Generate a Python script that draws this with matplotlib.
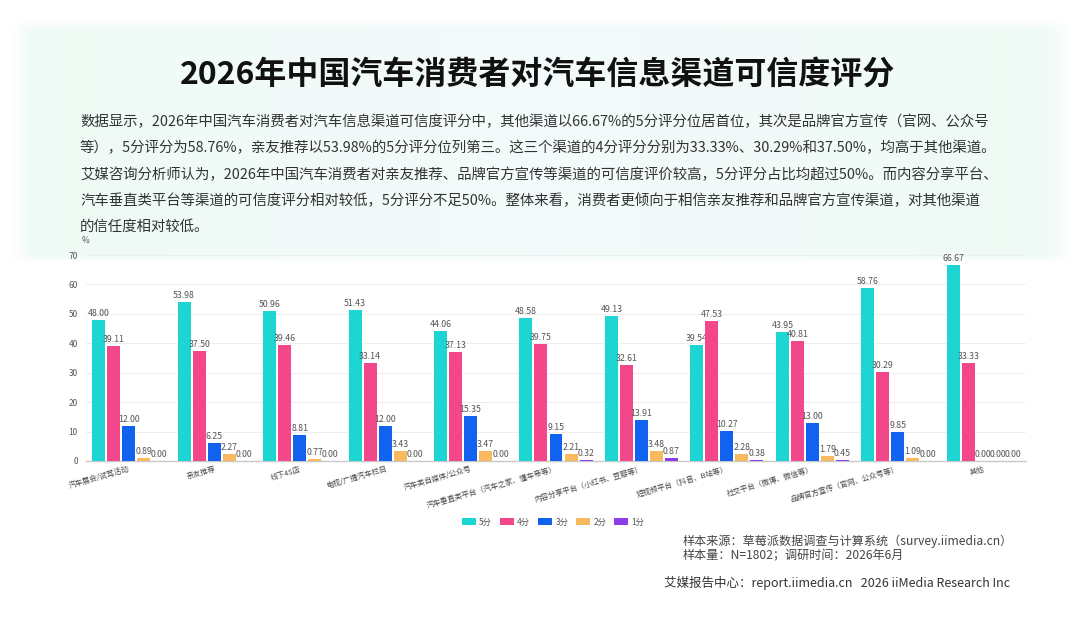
import matplotlib
matplotlib.use('Agg')
import matplotlib.pyplot as plt
import numpy as np

plt.rcParams['font.family'] = ['Noto Sans CJK SC', 'DejaVu Sans']

# categories and series (percent)
categories = ['汽车展会/试驾活动', '亲友推荐', '线下4S店', '电视/广播汽车栏目', '汽车类自媒体/公众号',
              '汽车垂直类平台（汽车之家、懂车帝等）', '内容分享平台（小红书、豆瓣等）',
              '短视频平台（抖音、B站等）', '社交平台（微博、微信等）', '品牌官方宣传（官网、公众号等）', '其他']
score5 = [48.00, 53.98, 50.96, 51.43, 44.06, 48.58, 49.13, 39.54, 43.95, 58.76, 66.67]
score4 = [39.11, 37.50, 39.46, 33.14, 37.13, 39.75, 32.61, 47.53, 40.81, 30.29, 33.33]
score3 = [12.00, 6.25, 8.81, 12.00, 15.35, 9.15, 13.91, 10.27, 13.00, 9.85, 0.00]
score2 = [0.89, 2.27, 0.77, 3.43, 3.47, 2.21, 3.48, 2.28, 1.79, 1.09, 0.00]
score1 = [0.00, 0.00, 0.00, 0.00, 0.00, 0.32, 0.87, 0.38, 0.45, 0.00, 0.00]
series_names = ['5分', '4分', '3分', '2分', '1分']
colors = ['#1DD5D3', '#F2478B', '#1162EE', '#F7BA5E', '#8E3DE6']

title = '2026年中国汽车消费者对汽车信息渠道可信度评分'
body_lines = [
    '数据显示，2026年中国汽车消费者对汽车信息渠道可信度评分中，其他渠道以66.67%的5分评分位居首位，其次是品牌官方宣传（官网、公众号',
    '等），5分评分为58.76%，亲友推荐以53.98%的5分评分位列第三。这三个渠道的4分评分分别为33.33%、30.29%和37.50%，均高于其他渠道。',
    '艾媒咨询分析师认为，2026年中国汽车消费者对亲友推荐、品牌官方宣传等渠道的可信度评价较高，5分评分占比均超过50%。而内容分享平台、',
    '汽车垂直类平台等渠道的可信度评分相对较低，5分评分不足50%。整体来看，消费者更倾向于相信亲友推荐和品牌官方宣传渠道，对其他渠道',
    '的信任度相对较低。',
]
source_lines = ['样本来源：草莓派数据调查与计算系统（survey.iimedia.cn）',
                '样本量：N=1802；调研时间：2026年6月']
footer = '艾媒报告中心：report.iimedia.cn   2026 iiMedia Research Inc'

W, H = 1080, 623
fig = plt.figure(figsize=(W / 100, H / 100), dpi=100)
fig.patch.set_facecolor('white')

# pale header panel behind title and text
bg = fig.add_axes((0, 0, 1, 1), zorder=-5)
bg.axis('off')
yy, xx = np.mgrid[0:H, 0:W]
def soft(v, lo, hi, s):
    return np.clip((v - lo) / s, 0, 1) * np.clip((hi - v) / s, 0, 1)
alpha = soft(xx, 10, 1070, 25) * soft(yy, 20, 262, 8)
tint = np.zeros((H, W, 4))
side = np.abs(xx - W / 2) / (W / 2)
tint[..., 0] = 0.955 - 0.02 * side
tint[..., 1] = 0.982
tint[..., 2] = 0.985 - 0.025 * side
tint[..., 3] = alpha
bg.imshow(tint, extent=(0, W, H, 0), aspect='auto')
bg.set_xlim(0, W)
bg.set_ylim(H, 0)

fig.text(538 / W, 1 - 75 / H, title, ha='center', va='center', fontsize=23,
         fontweight='bold', color='#111111')
for i, line in enumerate(body_lines):
    fig.text(80 / W, 1 - (122 + 26.3 * i) / H, line, ha='left', va='center',
             fontsize=10.4, color='#333333')

# chart
ax = fig.add_axes((86 / W, 1 - 461 / H, 940 / W, 206 / H))
x = np.arange(len(categories))
bw = 0.152
step = 0.1756
all_series = [score5, score4, score3, score2, score1]
handles = []
for k, vals in enumerate(all_series):
    pos = x + (k - 2) * step
    b = ax.bar(pos, vals, width=bw, color=colors[k], label=series_names[k], zorder=3)
    handles.append(b)
    for px, v in zip(pos, vals):
        ax.annotate(f'{v:.2f}', (px, v), xytext=(0, 1.5), textcoords='offset points',
                    ha='center', va='bottom', fontsize=6.3, color='#555555')

ax.set_xlim(-0.5, len(categories) - 0.5)
ax.set_ylim(0, 70)
ax.set_yticks(np.arange(0, 71, 10))
ax.grid(axis='y', color='#EEEEEE', linewidth=0.7, zorder=0)
ax.set_axisbelow(True)
for s in ['top', 'right', 'left']:
    ax.spines[s].set_visible(False)
ax.spines['bottom'].set_color('#C8C8C8')
ax.spines['bottom'].set_linewidth(1.0)
ax.tick_params(axis='y', length=0, pad=6, labelsize=6, labelcolor='#555555')
ax.tick_params(axis='x', length=0, pad=3)
ax.set_xticks(x)
ax.set_xticklabels(categories, rotation=16, ha='right', rotation_mode='anchor',
                   fontsize=5.4, color='#444444')
ax.text(0.0, 1.07, '%', transform=ax.transAxes, fontsize=6, color='#555555',
        ha='center', va='center')
ax.patch.set_alpha(0)

fig.legend(handles=handles, labels=series_names, loc='center', ncol=5,
           bbox_to_anchor=(553 / W, 1 - 522 / H), frameon=False, fontsize=6,
           handlelength=1.7, handleheight=0.9, columnspacing=0.9, handletextpad=0.4,
           labelcolor='#555555')

for i, line in enumerate(source_lines):
    fig.text(683 / W, 1 - (541 + 14.5 * i) / H, line, ha='left', va='center',
             fontsize=8.7, color='#444444')
fig.text(664 / W, 1 - 583 / H, footer, ha='left', va='center', fontsize=9.0, color='#333333')

fig.savefig('out.png', dpi=100)
